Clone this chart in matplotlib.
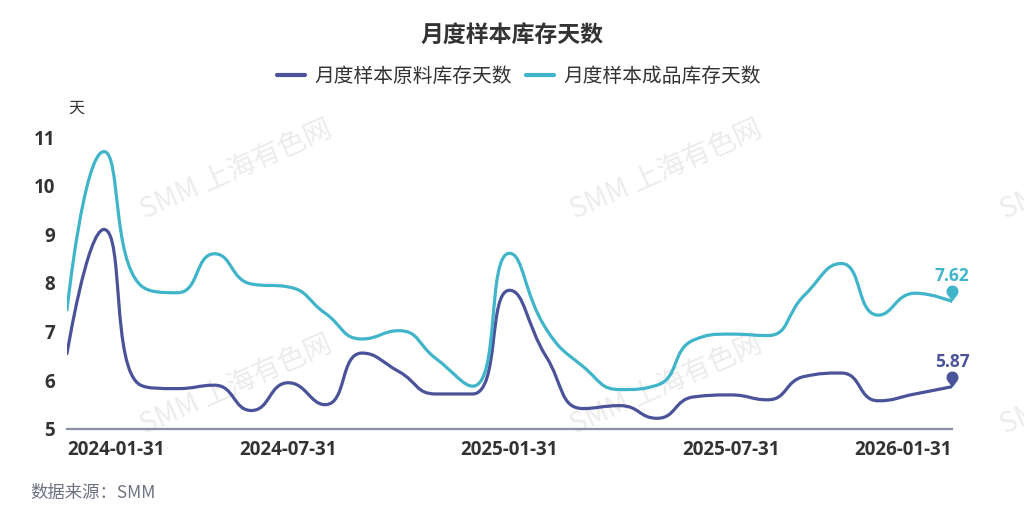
import numpy as np
import pandas as pd
import matplotlib
matplotlib.use("Agg")
import matplotlib.pyplot as plt
from matplotlib.path import Path
from matplotlib.patches import PathPatch
from matplotlib.lines import Line2D

plt.rcParams['font.family'] = ['Noto Sans CJK SC', 'DejaVu Sans']

# ---- data -------------------------------------------------------------
dates = pd.date_range('2024-01-31', periods=25, freq='ME').strftime('%Y-%m-%d').tolist()
raw_days = [6.55, 9.10, 5.90, 5.83, 5.90, 5.38, 5.95, 5.50, 6.56, 6.18, 5.72, 5.72,
            7.85, 6.48, 5.42, 5.48, 5.22, 5.66, 5.70, 5.60, 6.08, 6.15, 5.58, 5.72, 5.87]
finished_days = [7.45, 10.70, 7.95, 7.80, 8.60, 7.98, 7.92, 7.38, 6.85, 7.02, 6.45, 5.88,
                 8.61, 7.05, 6.28, 5.81, 5.90, 6.83, 6.95, 6.92, 7.75, 8.40, 7.34, 7.79, 7.62]
series_names = ['月度样本原料库存天数', '月度样本成品库存天数']
tick_every = 6
y_ticks = [5, 6, 7, 8, 9, 10, 11]

C_RAW = '#4a5399'
C_FIN = '#40b4c9'
C_TEXT = '#333333'

W, H = 1024, 522
fig = plt.figure(figsize=(W / 100, H / 100), dpi=100, facecolor='white')
ax = fig.add_axes([67 / W, (H - 429) / H, 885 / W, 292 / H])
ax.set_facecolor('none')

x = np.arange(len(dates))
ax.set_xlim(0, len(dates) - 1)
ax.set_ylim(y_ticks[0], y_ticks[-1])


def smooth_path(xs, ys, smooth=0.5):
    """Bezier through the points; control points clamped to each segment's box
    so the curve never overshoots its neighbours."""
    pts = ax.transData.transform(np.column_stack([xs, ys]))
    n = len(pts)
    verts = [pts[0]]
    codes = [Path.MOVETO]
    cp0 = pts[0].copy()
    for i in range(1, n):
        p = pts[i]
        prev = pts[i - 1]
        if i + 1 >= n:
            cp1 = p.copy()
            ncp0 = p.copy()
        else:
            nxt = pts[i + 1]
            v = nxt - prev
            l0 = np.hypot(*(p - prev))
            l1 = np.hypot(*(nxt - p))
            r = l1 / (l0 + l1)
            ncp0 = p + v * smooth * r
            ncp0 = np.minimum(ncp0, np.maximum(nxt, p))
            ncp0 = np.maximum(ncp0, np.minimum(nxt, p))
            v = ncp0 - p
            cp1 = p - v * l0 / l1
            cp1 = np.minimum(cp1, np.maximum(prev, p))
            cp1 = np.maximum(cp1, np.minimum(prev, p))
            v = p - cp1
            ncp0 = p + v * l1 / l0
        verts += [cp0, cp1, p]
        codes += [Path.CURVE4] * 3
        cp0 = ncp0
    verts = ax.transData.inverted().transform(np.array(verts))
    return Path(verts, codes)


for ys, col in [(raw_days, C_RAW), (finished_days, C_FIN)]:
    patch = PathPatch(smooth_path(x, ys), facecolor='none', edgecolor=col,
                      lw=2.3, capstyle='round', joinstyle='round', zorder=3)
    ax.add_patch(patch)

# pin marker: tip at the data point, round head above
theta = np.linspace(-0.2 * np.pi, 1.2 * np.pi, 40)
r_head, c_head = 6.0, 10.0
head = np.column_stack([r_head * np.cos(theta), c_head + r_head * np.sin(theta)])
pin_verts = np.vstack([[0, 0], head, [0, 0]])
pin = Path(pin_verts, [Path.MOVETO] + [Path.LINETO] * (len(pin_verts) - 2) + [Path.CLOSEPOLY])

for ys, col in [(raw_days, C_RAW), (finished_days, C_FIN)]:
    ax.plot([x[-1]], [ys[-1]], marker=pin, markersize=23, color=col,
            markeredgewidth=0, zorder=4, clip_on=False)
    ax.annotate(f'{ys[-1]:.2f}', (x[-1], ys[-1]), xytext=(0, 14.5),
                textcoords='offset points', ha='center', va='baseline',
                fontsize=12.5, fontweight='bold', color=col, family='Open Sans',
                zorder=5, annotation_clip=False)

# axes styling
for s in ['top', 'right', 'left']:
    ax.spines[s].set_visible(False)
ax.spines['bottom'].set_color('#8a90a4')
ax.spines['bottom'].set_linewidth(1.6)
ax.spines['bottom'].set_zorder(2)

ax.set_yticks(y_ticks)
ax.set_yticklabels([str(v) for v in y_ticks])
ax.tick_params(axis='y', length=0, pad=8.5, labelsize=13.5, labelcolor=C_TEXT)
xt = list(range(0, len(dates), tick_every))
ax.set_xticks(xt)
ax.set_xticklabels([dates[i] for i in xt])
ax.tick_params(axis='x', length=0, pad=8, labelsize=13.5, labelcolor=C_TEXT)
for lab in ax.get_xticklabels() + ax.get_yticklabels():
    lab.set_fontweight('bold')
    lab.set_family('Open Sans')
xl = ax.get_xticklabels()
xl[0].set_ha('left')
xl[-1].set_ha('right')

# title, legend, unit, source
fig.text(512 / W, 1 - 35 / H, '月度样本库存天数', ha='center', va='center',
         fontsize=16.5, fontweight='bold', color=C_TEXT)
handles = [Line2D([], [], color=C_RAW, lw=3, solid_capstyle='round'),
           Line2D([], [], color=C_FIN, lw=3, solid_capstyle='round')]
fig.legend(handles, series_names, loc='center', bbox_to_anchor=(519 / W, 1 - 76 / H),
           ncol=2, frameon=False, fontsize=14.2, handlelength=1.4,
           handletextpad=0.5, columnspacing=0.7, labelcolor=C_TEXT)
fig.text(76 / W, 1 - 108 / H, '天', ha='center', va='center', fontsize=11.5, color=C_TEXT)
fig.text(30 / W, 1 - 493 / H, '数据来源：SMM', ha='left', va='center',
         fontsize=12.5, color='#6e7281', style='italic')

# background watermarks
for cx in [236, 666, 1096]:
    for cy in [170, 385]:
        fig.text(cx / W, 1 - cy / H, 'SMM 上海有色网', rotation=24, ha='center',
                 va='center', fontsize=20, color='#ececec', zorder=-1)

fig.savefig('out.png', dpi=100, facecolor='white')
